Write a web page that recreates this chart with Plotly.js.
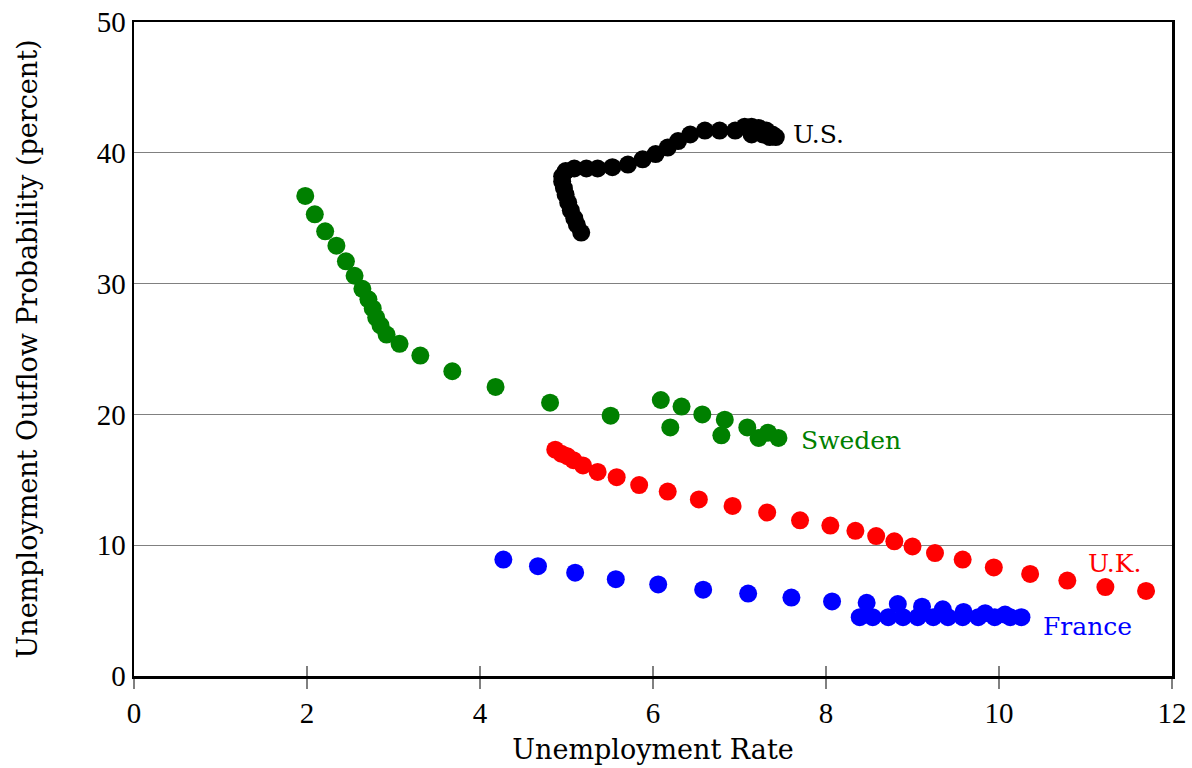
<!DOCTYPE html>
<html>
<head>
<meta charset="utf-8">
<script src="https://cdn.plot.ly/plotly-3.0.1.min.js"></script>
<style>html,body{margin:0;padding:0;background:#fff;}#chart{width:1192px;height:768px;}</style>
</head>
<body>
<div id="chart"></div>
<script>
// U.S.
const usX = [5.17,5.12,5.09,5.05,5.02,4.99,4.97,4.95,4.95,4.99,5.09,5.23,5.36,5.53,5.71,5.88,6.03,6.17,6.29,6.43,6.60,6.77,6.95,7.06,7.14,7.22,7.31,7.38,7.42,7.35,7.27,7.14];
const usY = [33.9,34.5,35.0,35.6,36.2,36.8,37.3,37.8,38.2,38.6,38.8,38.8,38.8,38.9,39.1,39.5,39.9,40.4,40.9,41.4,41.7,41.7,41.7,42.0,42.0,41.9,41.7,41.4,41.2,41.2,41.4,41.4];
// Sweden
const swX = [1.98,2.09,2.21,2.34,2.45,2.55,2.64,2.71,2.76,2.80,2.85,2.92,3.07,3.31,3.68,4.18,4.81,5.51,6.09,6.33,6.20,6.57,6.83,6.79,7.09,7.22,7.33,7.45];
const swY = [36.7,35.3,34.0,32.9,31.7,30.6,29.6,28.8,28.1,27.4,26.8,26.1,25.4,24.5,23.3,22.1,20.9,19.9,21.1,20.6,19.0,20.0,19.6,18.4,19.0,18.2,18.6,18.2];
// U.K.
const ukX = [4.87,4.94,5.01,5.08,5.19,5.36,5.58,5.84,6.17,6.53,6.92,7.32,7.70,8.05,8.34,8.58,8.79,9.00,9.26,9.58,9.94,10.36,10.79,11.23,11.70];
const ukY = [17.3,17.0,16.8,16.5,16.1,15.6,15.2,14.6,14.1,13.5,13.0,12.5,11.9,11.5,11.1,10.7,10.3,9.9,9.4,8.9,8.3,7.8,7.3,6.8,6.5];
// France
const frX = [4.27,4.67,5.10,5.57,6.06,6.58,7.10,7.60,8.07,8.47,8.83,9.11,9.35,9.59,9.84,10.07,8.39,8.54,8.72,8.89,9.06,9.24,9.41,9.58,9.76,9.95,10.13,10.26];
const frY = [8.9,8.4,7.9,7.4,7.0,6.6,6.3,6.0,5.7,5.6,5.5,5.3,5.1,4.9,4.8,4.7,4.5,4.5,4.5,4.5,4.5,4.5,4.5,4.5,4.5,4.5,4.5,4.5];

const xTicks = [0,2,4,6,8,10,12];
const yTicks = [0,10,20,30,40,50];

const labels = [
  {name:'U.S.', x:7.6, y:41.4, color:'#000000'},
  {name:'Sweden', x:7.69, y:18.0, color:'#008000'},
  {name:'U.K.', x:11.0, y:8.6, color:'#ff0000'},
  {name:'France', x:10.48, y:3.8, color:'#0000ff'}
];

const mk = (x, y, color, name) => ({
  x: x, y: y, type: 'scatter', mode: 'markers', name: name,
  marker: {color: color, size: 18, line: {width: 0}},
  hoverinfo: 'x+y', showlegend: false
});

const data = [
  mk(usX, usY, '#000000', 'U.S.'),
  mk(swX, swY, '#008000', 'Sweden'),
  mk(ukX, ukY, '#ff0000', 'U.K.'),
  mk(frX, frY, '#0000ff', 'France')
];

const serif = 'DejaVu Serif, serif';
const tickFont = {family: 'Liberation Serif, serif', size: 29, color: '#000'};

const layout = {
  width: 1192, height: 768,
  margin: {l: 134, r: 20, t: 22, b: 92},
  paper_bgcolor: '#fff', plot_bgcolor: '#fff',
  showlegend: false,
  xaxis: {
    range: [0, 12], tickvals: xTicks, ticktext: xTicks.map(String),
    ticks: 'outside', ticklen: 10, tickcolor: '#808080', tickwidth: 1.3,
    showgrid: false, zeroline: false,
    showline: true, linecolor: '#000', linewidth: 2.5, mirror: true,
    tickfont: tickFont,
    title: {text: 'Unemployment Rate', font: {family: serif, size: 27, color: '#000'}, standoff: 12}
  },
  xaxis2: {
    range: [0, 12], overlaying: 'x', side: 'bottom', anchor: 'y',
    tickvals: xTicks, ticks: 'inside', ticklen: 10, tickcolor: '#808080', tickwidth: 1.3,
    showticklabels: false, showgrid: false, zeroline: false, showline: false
  },
  yaxis: {
    range: [0, 50], tickvals: yTicks, ticktext: yTicks.map(String),
    ticks: '', showgrid: true, gridcolor: '#808080', gridwidth: 1.3,
    zeroline: false,
    showline: true, linecolor: '#000', linewidth: 2.5, mirror: true,
    tickfont: tickFont,
    title: {text: 'Unemployment Outflow Probability (percent)', font: {family: serif, size: 27, color: '#000'}, standoff: 52}
  },
  annotations: labels.map(l => ({
    x: l.x, y: l.y, xref: 'x', yref: 'y', text: l.name, showarrow: false,
    xanchor: 'left', yanchor: 'middle',
    font: {family: serif, size: 25, color: l.color}
  }))
};

Plotly.newPlot('chart', data.concat([{x: [0], y: [0], xaxis: 'x2', yaxis: 'y', type: 'scatter', mode: 'markers', marker: {opacity: 0}, hoverinfo: 'skip', showlegend: false}]), layout, {staticPlot: true, displayModeBar: false});
</script>
</body>
</html>
